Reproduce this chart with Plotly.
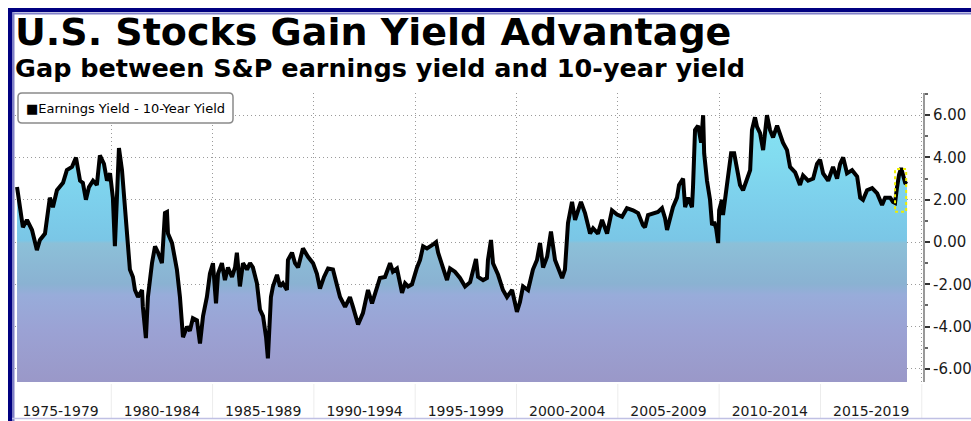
import plotly.graph_objects as go

# ---------------- data ----------------
years = [
    1975.35, 1975.49, 1975.64, 1975.84, 1976.09, 1976.33, 1976.48, 1976.73, 1976.88, 1976.97,
    1977.12, 1977.32, 1977.62, 1977.81, 1978.06, 1978.26, 1978.46, 1978.60, 1978.75, 1978.90,
    1979.10, 1979.29, 1979.44, 1979.64, 1979.79, 1979.94, 1980.08, 1980.18, 1980.28, 1980.38,
    1980.53, 1980.68, 1980.82, 1980.92, 1981.07, 1981.17, 1981.32, 1981.52, 1981.56, 1981.71,
    1981.81, 1982.01, 1982.16, 1982.31, 1982.50, 1982.65, 1982.75, 1982.80, 1983.00, 1983.24,
    1983.39, 1983.54, 1983.74, 1983.88, 1984.03, 1984.23, 1984.38, 1984.53, 1984.72, 1984.87,
    1985.02, 1985.17, 1985.27, 1985.46, 1985.61, 1985.76, 1985.96, 1986.11, 1986.20, 1986.35,
    1986.50, 1986.70, 1986.85, 1986.99, 1987.19, 1987.34, 1987.49, 1987.64, 1987.73, 1987.88,
    1987.98, 1988.18, 1988.33, 1988.47, 1988.67, 1988.72, 1988.92, 1989.07, 1989.22, 1989.46,
    1989.71, 1989.96, 1990.15, 1990.30, 1990.50, 1990.70, 1990.94, 1991.14, 1991.29, 1991.54,
    1991.78, 1991.93, 1992.18, 1992.42, 1992.67, 1992.87, 1993.02, 1993.26, 1993.51, 1993.76,
    1993.90, 1994.10, 1994.35, 1994.50, 1994.65, 1994.84, 1995.09, 1995.24, 1995.39, 1995.58,
    1995.83, 1996.03, 1996.13, 1996.37, 1996.57, 1996.72, 1996.96, 1997.21, 1997.46, 1997.71,
    1997.85, 1998.00, 1998.10, 1998.35, 1998.54, 1998.59, 1998.74, 1998.84, 1999.09, 1999.33,
    1999.53, 1999.78, 2000.02, 2000.17, 2000.32, 2000.57, 2000.81, 2001.01, 2001.16, 2001.31,
    2001.51, 2001.70, 2001.90, 2002.05, 2002.25, 2002.39, 2002.54, 2002.74, 2002.89, 2003.04,
    2003.18, 2003.38, 2003.63, 2003.78, 2004.02, 2004.22, 2004.47, 2004.71, 2004.96, 2005.21,
    2005.45, 2005.75, 2006.00, 2006.24, 2006.34, 2006.49, 2006.74, 2006.98, 2007.18, 2007.33,
    2007.43, 2007.58, 2007.72, 2007.92, 2008.02, 2008.22, 2008.32, 2008.47, 2008.66, 2008.71,
    2008.81, 2008.96, 2009.11, 2009.21, 2009.26, 2009.40, 2009.55, 2009.65, 2009.75, 2009.85,
    2009.95, 2010.00, 2010.14, 2010.19, 2010.34, 2010.44, 2010.59, 2010.74, 2010.88, 2011.03,
    2011.18, 2011.38, 2011.53, 2011.62, 2011.77, 2011.87, 2012.02, 2012.17, 2012.32, 2012.36,
    2012.51, 2012.66, 2012.86, 2013.01, 2013.15, 2013.35, 2013.50, 2013.75, 2013.99, 2014.14,
    2014.39, 2014.64, 2014.83, 2014.98, 2015.13, 2015.38, 2015.62, 2015.82, 2015.97, 2016.12,
    2016.31, 2016.56, 2016.81, 2016.96, 2017.10, 2017.30, 2017.55, 2017.80, 2018.04, 2018.19,
    2018.44, 2018.58, 2018.68, 2018.78, 2018.88, 2018.98, 2019.08, 2019.18, 2019.27,
]
gap = [
    2.60, 1.65, 0.70, 1.05, 0.57, -0.38, 0.10, 0.40, 1.37, 2.10,
    1.65, 2.45, 2.80, 3.40, 3.55, 4.00, 2.90, 2.80, 2.00, 2.60,
    2.90, 2.70, 4.10, 3.70, 2.90, 3.25, 2.10, -0.20, 2.10, 4.45,
    3.40, 1.37, 0.10, -1.30, -1.65, -2.27, -2.60, -2.27, -3.07, -4.54,
    -2.60, -1.00, -0.20, -0.50, -1.00, 1.37, 1.42, 0.40, -0.05, -1.30,
    -2.60, -4.50, -4.00, -4.20, -3.60, -3.70, -4.80, -3.50, -2.60, -1.50,
    -1.00, -2.90, -1.50, -1.00, -1.80, -1.20, -1.65, -1.20, -0.50, -2.10,
    -1.00, -1.30, -1.00, -1.20, -1.95, -3.20, -3.50, -4.50, -5.50, -2.60,
    -2.10, -1.55, -2.10, -1.95, -2.27, -0.85, -0.50, -1.00, -1.20, -0.30,
    -0.70, -1.00, -1.50, -2.20, -1.65, -1.25, -1.30, -2.10, -2.60, -3.07,
    -2.60, -3.07, -3.90, -3.36, -2.27, -2.90, -2.40, -1.70, -1.65, -1.00,
    -1.40, -1.25, -2.40, -1.95, -2.10, -2.00, -1.20, -0.85, -0.20, -0.30,
    -0.15, 0.00, -0.50, -1.30, -1.80, -1.25, -1.40, -1.70, -2.10, -1.90,
    -1.40, -0.80, -1.65, -1.80, -1.70, -0.85, 0.10, -1.00, -1.55, -2.27,
    -2.60, -2.27, -3.30, -2.84, -2.10, -2.27, -1.30, -0.85, -0.05, -1.20,
    -0.70, 0.50, -0.85, -1.20, -1.70, -1.30, 0.90, 1.90, 1.05, 1.50,
    1.90, 1.37, 0.40, 0.65, 0.40, 1.05, 0.40, 1.50, 1.30, 1.20,
    1.60, 1.50, 1.37, 0.80, 0.70, 1.28, 1.37, 1.42, 1.60, 1.13,
    0.57, 1.05, 1.65, 2.10, 2.70, 3.00, 1.65, 2.10, 1.65, 2.60,
    5.30, 5.50, 4.70, 6.00, 4.20, 2.90, 2.00, 0.80, 0.95, 0.65,
    -0.05, 1.50, 2.00, 1.28, 2.45, 3.40, 4.20, 4.20, 3.55, 2.70,
    2.45, 3.00, 3.40, 5.30, 5.90, 5.45, 5.15, 4.35, 5.75, 6.00,
    5.30, 4.95, 5.50, 5.05, 4.70, 4.35, 3.55, 3.30, 2.70, 3.15,
    2.90, 3.00, 3.70, 3.90, 3.25, 2.90, 3.55, 3.00, 3.70, 4.00,
    3.25, 3.40, 3.10, 2.10, 2.00, 2.45, 2.55, 2.30, 1.75, 2.10,
    2.10, 1.90, 1.85, 2.60, 3.20, 3.50, 3.10, 2.80, 2.75,
]
period_starts = [1975, 1980, 1985, 1990, 1995, 2000, 2005, 2010, 2015]
period_labels = ["1975-1979", "1980-1984", "1985-1989", "1990-1994", "1995-1999",
                 "2000-2004", "2005-2009", "2010-2014", "2015-2019"]
y_tick_vals = [-6, -4, -2, 0, 2, 4, 6]
y_tick_text = ["-6.00", "-4.00", "-2.00", "0.00", "2.00", "4.00", "6.00"]
y_minor_vals = [-5, -3, -1, 1, 3, 5, 7]
series_name = "Earnings Yield - 10-Year Yield"
title_text = "U.S. Stocks Gain Yield Advantage"
subtitle_text = "Gap between S&amp;P earnings yield and 10-year yield"
highlight_points = 7  # last readings boxed in yellow

# ---------------- layout geometry (pixels) ----------------
W, H = 971, 421
ML, MR, MT, MB = 15, 48, 93, 39
PW, PH = W - ML - MR, H - MT - MB
X_MIN, X_MAX = 1975.25, 2020.06
Y_MIN, Y_MAX = -6.62, 7.05


def pxx(x):
    return (x - ML) / PW


def pxy(y):
    return 1 - (y - MT) / PH


FONT = "DejaVu Sans"
GRID = "#9a9a9a"
DOTS = "1px,3px"

fig = go.Figure()

# baseline for the gradient fill (bottom of the plot)
fig.add_trace(go.Scatter(
    x=[years[0], years[-1]], y=[Y_MIN, Y_MIN], mode="lines",
    line=dict(width=0, color="rgba(0,0,0,0)"), hoverinfo="skip", showlegend=False))

fig.add_trace(go.Scatter(
    x=years, y=gap, mode="lines", name=series_name,
    line=dict(color="black", width=4),
    fill="tonexty",
    fillgradient=dict(
        type="vertical",
        start=Y_MIN, stop=Y_MAX,
        colorscale=[
            [0.00, "#9a98c8"],
            [0.18, "#9ba2d4"],
            [0.30, "#98acda"],
            [0.34, "#8ab2d2"],
            [0.48, "#8cc0d8"],
            [0.49, "#7ac6e6"],
            [0.63, "#7dd0ec"],
            [0.78, "#82dcf0"],
            [1.00, "#88e6f6"],
        ]),
    showlegend=False))

# yellow dotted highlight around the latest readings
hx = years[-highlight_points:]
hy = gap[-highlight_points:]
fig.add_shape(type="rect", xref="x", yref="y",
              x0=hx[0], x1=hx[-1] - 0.04, y0=min(hy) - 0.42, y1=max(hy) - 0.05,
              line=dict(color="#eeee00", width=2, dash="dot"))

shapes = []
# outer frame
shapes.append(dict(type="rect", xref="paper", yref="paper",
                   x0=pxx(8), x1=pxx(972), y0=pxy(8), y1=pxy(12),
                   fillcolor="#000080", line=dict(width=0), layer="above"))
shapes.append(dict(type="rect", xref="paper", yref="paper",
                   x0=pxx(8), x1=pxx(12.5), y0=pxy(8), y1=pxy(422),
                   fillcolor="#000080", line=dict(width=0), layer="above"))
shapes.append(dict(type="line", xref="paper", yref="paper",
                   x0=pxx(12.5), x1=pxx(972), y0=pxy(13.5), y1=pxy(13.5),
                   line=dict(color="#8080c8", width=2), layer="above"))
shapes.append(dict(type="line", xref="paper", yref="paper",
                   x0=pxx(13.5), x1=pxx(13.5), y0=pxy(12.5), y1=pxy(422),
                   line=dict(color="#8080c8", width=2), layer="above"))
shapes.append(dict(type="line", xref="paper", yref="paper",
                   x0=pxx(12), x1=pxx(972), y0=pxy(418.5), y1=pxy(418.5),
                   line=dict(color="#c0c0e4", width=1.5), layer="above"))
# faint separators in the label strip
for s in period_starts[1:] + [2020]:
    shapes.append(dict(type="line", xref="x", yref="paper",
                       x0=s, x1=s, y0=pxy(384), y1=pxy(418),
                       line=dict(color="#ececec", width=1), layer="below"))

# legend box with rounded corners
lx0, lx1, ly0, ly1, r = 18, 233, 93, 123, 4
pts = [("M", lx0 + r, ly0), ("L", lx1 - r, ly0), ("Q", lx1, ly0, lx1, ly0 + r),
       ("L", lx1, ly1 - r), ("Q", lx1, ly1, lx1 - r, ly1), ("L", lx0 + r, ly1),
       ("Q", lx0, ly1, lx0, ly1 - r), ("L", lx0, ly0 + r), ("Q", lx0, ly0, lx0 + r, ly0)]
path = ""
for p in pts:
    coords = p[1:]
    seg = [f"{pxx(coords[i]):.5f},{pxy(coords[i + 1]):.5f}" for i in range(0, len(coords), 2)]
    path += p[0] + " " + " ".join(seg) + " "
path += "Z"
shapes.append(dict(type="path", xref="paper", yref="paper", path=path,
                   fillcolor="white", line=dict(color="#8a8a8a", width=1.5), layer="above"))

fig.update_layout(shapes=list(fig.layout.shapes) + shapes)

annotations = [
    dict(text="<b>" + title_text + "</b>", xref="paper", yref="paper",
         x=pxx(13), y=pxy(8), xanchor="left", yanchor="top", showarrow=False,
         font=dict(family=FONT, size=38, color="black")),
    dict(text="<b>" + subtitle_text + "</b>", xref="paper", yref="paper",
         x=pxx(13), y=pxy(51), xanchor="left", yanchor="top", showarrow=False,
         font=dict(family=FONT, size=25.5, color="black")),
    dict(text="\u25a0" + series_name, xref="paper", yref="paper",
         x=pxx(24), y=pxy(108), xanchor="left", yanchor="middle", showarrow=False,
         font=dict(family=FONT, size=13, color="black")),
]

fig.update_layout(
    width=W, height=H,
    margin=dict(l=ML, r=MR, t=MT, b=MB, pad=0, autoexpand=False),
    paper_bgcolor="white", plot_bgcolor="white",
    showlegend=False,
    annotations=annotations,
    xaxis=dict(
        range=[X_MIN, X_MAX], showgrid=False, zeroline=False, showline=False,
        automargin=False,
        tickmode="array", tickvals=[s + 2.5 for s in period_starts], ticktext=period_labels,
        ticks="", ticklabelstandoff=19,
        tickfont=dict(family=FONT, size=14, color="#1a1a1a"),
        minor=dict(tickmode="array", tickvals=period_starts[1:] + [2020], showgrid=True,
                   gridcolor=GRID, griddash=DOTS, gridwidth=1, ticks=""),
    ),
    yaxis=dict(
        range=[Y_MIN, Y_MAX], side="right", zeroline=False,
        automargin=False,
        tickmode="array", tickvals=y_tick_vals, ticktext=y_tick_text,
        showgrid=True, gridcolor=GRID, griddash=DOTS, gridwidth=1,
        showline=True, linecolor="#999999", linewidth=2,
        ticks="outside", ticklen=5, tickwidth=1.5, tickcolor="#333333",
        tickfont=dict(family=FONT, size=15, color="#1a1a1a"),
        minor=dict(tickmode="array", tickvals=y_minor_vals, ticks="outside",
                   ticklen=3, tickcolor="#666666", showgrid=False),
    ),
)

fig.write_html("out.html",
               config={"displayModeBar": False},
               post_script="document.body.style.margin='0';document.body.style.overflow='hidden';")
